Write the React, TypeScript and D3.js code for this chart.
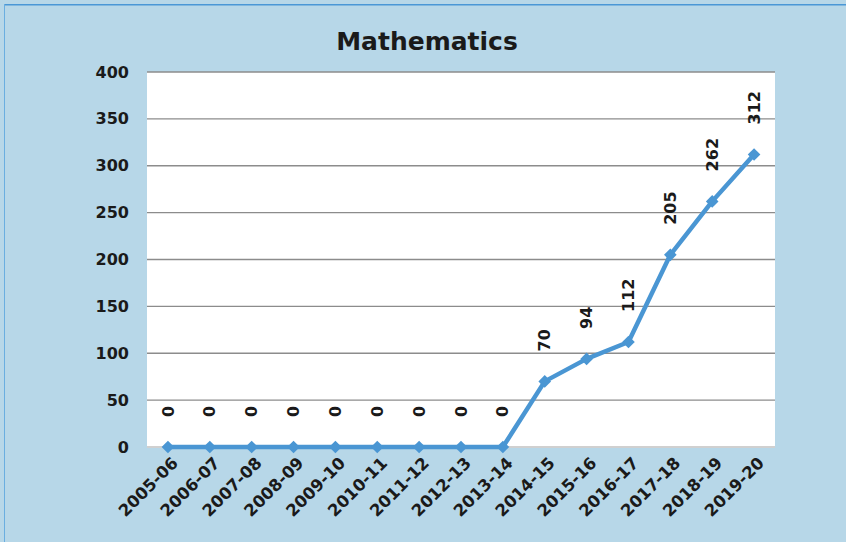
import React, { useEffect, useRef } from 'react';
import * as d3 from 'd3';

const years = [
  '2005-06', '2006-07', '2007-08', '2008-09', '2009-10', '2010-11', '2011-12', '2012-13',
  '2013-14', '2014-15', '2015-16', '2016-17', '2017-18', '2018-19', '2019-20',
];
const counts = [0, 0, 0, 0, 0, 0, 0, 0, 0, 70, 94, 112, 205, 262, 312];
const yTicks = [0, 50, 100, 150, 200, 250, 300, 350, 400];

const W = 846;
const H = 542;
const BG = '#b7d7e8';
const FONT = "'DejaVu Sans', sans-serif";

const App = () => {
  const svgRef = useRef<SVGSVGElement>(null);

  useEffect(() => {
    document.body.style.margin = '0';
    document.body.style.overflow = 'hidden';
    document.body.style.background = BG;
    const svg = d3.select(svgRef.current);
    svg.selectAll('*').remove();

    // background + frame (top and left edge only)
    svg.append('rect').attr('width', W).attr('height', H).attr('fill', BG);
    svg.append('rect').attr('x', 4).attr('y', 4).attr('width', W - 4).attr('height', 1.5).attr('fill', '#4a97d6');
    svg.append('rect').attr('x', 4).attr('y', 4).attr('width', 1).attr('height', H - 4).attr('fill', '#6aaee0');

    const margin = { top: 72, right: 71, bottom: 95, left: 147 };
    const width = W - margin.left - margin.right;
    const height = H - margin.top - margin.bottom;

    const x = d3.scaleBand().domain(years).range([0, width]);
    const y = d3.scaleLinear().domain([0, 400]).range([height, 0]);

    svg.append('text')
      .attr('x', 427).attr('y', 50)
      .attr('text-anchor', 'middle')
      .attr('font-family', FONT).attr('font-weight', 700).attr('font-size', 25)
      .attr('fill', '#1a1a1a')
      .text('Mathematics');

    const g = svg.append('g').attr('transform', `translate(${margin.left},${margin.top})`);

    g.append('rect').attr('width', width).attr('height', height).attr('fill', '#ffffff');

    // gridlines
    g.selectAll('.grid')
      .data(yTicks.filter((t) => t > 0))
      .enter()
      .append('line')
      .attr('x1', 0).attr('x2', width)
      .attr('y1', (d) => y(d)).attr('y2', (d) => y(d))
      .attr('stroke', '#8c8c8c').attr('stroke-width', 1.3);

    g.append('line')
      .attr('x1', 0).attr('x2', width)
      .attr('y1', y(0)).attr('y2', y(0))
      .attr('stroke', '#d0d0d0').attr('stroke-width', 2);

    // y labels
    g.selectAll('.ylab')
      .data(yTicks)
      .enter()
      .append('text')
      .attr('x', -18).attr('y', (d) => y(d))
      .attr('dy', '0.35em')
      .attr('text-anchor', 'end')
      .attr('font-family', FONT).attr('font-weight', 700).attr('font-size', 16)
      .attr('fill', '#1a1a1a')
      .text((d) => d);

    // x labels
    g.selectAll('.xlab')
      .data(years)
      .enter()
      .append('text')
      .attr('transform', (d) => `translate(${(x(d) as number) + x.bandwidth() / 2 + 7},${height + 13}) rotate(-45)`)
      .attr('dy', '0.35em')
      .attr('text-anchor', 'end')
      .attr('font-family', FONT).attr('font-weight', 700).attr('font-size', 16.5)
      .attr('fill', '#1a1a1a')
      .text((d) => d);

    const cx = (d: string) => (x(d) as number) + x.bandwidth() / 2;

    const line = d3.line<number>()
      .x((_, i) => cx(years[i]))
      .y((d) => y(d));

    g.append('path')
      .datum(counts)
      .attr('d', line)
      .attr('fill', 'none')
      .attr('stroke', '#4a96d3')
      .attr('stroke-width', 4.5)
      .attr('stroke-linejoin', 'round');

    g.selectAll('.marker')
      .data(counts)
      .enter()
      .append('path')
      .attr('d', d3.symbol().type(d3.symbolSquare).size(80))
      .attr('transform', (d, i) => `translate(${cx(years[i])},${y(d)}) rotate(45)`)
      .attr('fill', '#4a96d3');

    // data labels
    g.selectAll('.dlab')
      .data(counts)
      .enter()
      .append('text')
      .attr('transform', (d, i) => `translate(${cx(years[i])},${y(d) - 30}) rotate(-90)`)
      .attr('dy', '0.35em')
      .attr('text-anchor', 'start')
      .attr('font-family', FONT).attr('font-weight', 700).attr('font-size', 16)
      .attr('fill', '#1a1a1a')
      .text((d) => d);
  }, []);

  return <svg ref={svgRef} width={W} height={H} style={{ display: 'block' }} />;
};

export default App;
